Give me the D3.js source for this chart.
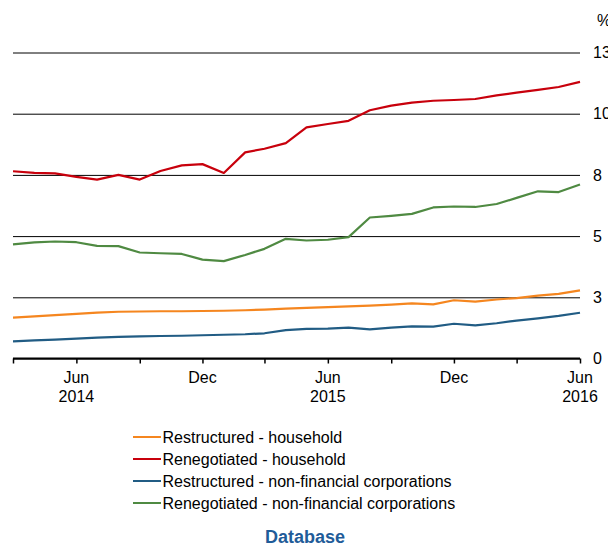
<!DOCTYPE html>
<html>
<head>
<meta charset="utf-8">
<script src="https://cdn.jsdelivr.net/npm/d3@7"></script>
<style>
  html, body { margin: 0; padding: 0; background: #fff; }
  svg { display: block; font-family: "Liberation Sans", Arial, sans-serif; }
</style>
</head>
<body>
<svg id="chart" width="608" height="544"></svg>
<script>
// Monthly observations, March 2014 to June 2016
const months = [
  "2014-03","2014-04","2014-05","2014-06","2014-07","2014-08","2014-09",
  "2014-10","2014-11","2014-12","2015-01","2015-02","2015-03","2015-04",
  "2015-05","2015-06","2015-07","2015-08","2015-09","2015-10","2015-11",
  "2015-12","2016-01","2016-02","2016-03","2016-04","2016-05","2016-06"
];

// Share of loans, per cent
const restructuredHousehold = [
  1.67, 1.72, 1.77, 1.82, 1.87, 1.91, 1.92, 1.93, 1.93, 1.94, 1.95, 1.97, 2.00, 2.04,
  2.07, 2.10, 2.13, 2.16, 2.20, 2.25, 2.21, 2.38, 2.32, 2.41, 2.47, 2.57, 2.64, 2.78
];
const renegotiatedHousehold = [
  7.65, 7.58, 7.56, 7.42, 7.31, 7.50, 7.31, 7.66, 7.89, 7.94, 7.58, 8.42, 8.57, 8.80,
  9.44, 9.58, 9.71, 10.14, 10.33, 10.45, 10.53, 10.56, 10.60, 10.75, 10.86, 10.97, 11.09, 11.30
];
const restructuredCorporations = [
  0.70, 0.74, 0.77, 0.81, 0.85, 0.88, 0.90, 0.92, 0.93, 0.95, 0.97, 0.99, 1.03, 1.16,
  1.21, 1.22, 1.26, 1.19, 1.26, 1.31, 1.30, 1.42, 1.35, 1.44, 1.55, 1.64, 1.74, 1.87
];
const renegotiatedCorporations = [
  4.66, 4.74, 4.78, 4.75, 4.60, 4.59, 4.33, 4.30, 4.27, 4.04, 3.98, 4.23, 4.48, 4.89,
  4.82, 4.85, 4.96, 5.76, 5.83, 5.91, 6.17, 6.21, 6.19, 6.31, 6.56, 6.83, 6.80, 7.11
];

const seriesNames = [
  "Restructured - household",
  "Renegotiated - household",
  "Restructured - non-financial corporations",
  "Renegotiated - non-financial corporations"
];
const seriesColors = ["#f5861f", "#c8000c", "#215c84", "#4f8a42"];
const yTicks = [0, 2.5, 5, 7.5, 10, 12.5];

const parseMonth = d3.timeParse("%Y-%m");
const dates = months.map(parseMonth);
const allSeries = [restructuredHousehold, renegotiatedHousehold, restructuredCorporations, renegotiatedCorporations];

const svg = d3.select("#chart");
const plotLeft = 13, plotRight = 580, plotTop = 52.5, plotBottom = 358.5;

const x = d3.scaleTime().domain(d3.extent(dates)).range([plotLeft, plotRight]);
const y = d3.scaleLinear().domain([0, 12.5]).range([plotBottom, plotTop]);

// Horizontal gridlines with labels on the right
const yAxis = d3.axisRight(y)
  .tickValues(yTicks)
  .tickFormat(d3.format(".0f"))
  .tickSize(-(plotRight - plotLeft))
  .tickPadding(13);
const gy = svg.append("g").attr("transform", `translate(${plotRight},0)`).call(yAxis);
gy.select(".domain").remove();
gy.selectAll(".tick line").attr("stroke", "#000").attr("stroke-width", 1);
gy.selectAll(".tick text")
  .attr("fill", "#000")
  .style("font-size", "16px")
  .style("font-family", "'Liberation Sans', Arial, sans-serif");

svg.append("text")
  .attr("x", 597).attr("y", 26)
  .style("font-size", "16px")
  .text("%");

// Time axis along the bottom, ticks every quarter from the first month
const xTickDates = d3.timeMonth.range(dates[0], d3.timeMonth.offset(dates[dates.length - 1], 1), 3);
const xAxis = d3.axisBottom(x).tickValues(xTickDates).tickSize(5).tickFormat("");
const gx = svg.append("g").attr("transform", `translate(0,${plotBottom})`).call(xAxis);
gx.select(".domain").attr("d", `M${plotLeft},0H${plotRight}`).attr("stroke", "#000").attr("stroke-width", 2);
gx.selectAll(".tick line").attr("stroke", "#000").attr("stroke-width", 1.5);

const labelled = xTickDates.filter(d => d.getMonth() === 5 || d.getMonth() === 11);
const lab = svg.append("g").style("font-size", "16px").attr("text-anchor", "middle");
labelled.forEach(d => {
  lab.append("text").attr("x", x(d)).attr("y", 383).text(d3.timeFormat("%b")(d));
  if (d.getMonth() === 5) {
    lab.append("text").attr("x", x(d)).attr("y", 402).text(d3.timeFormat("%Y")(d));
  }
});

// Series lines
const line = d3.line().x((d, i) => x(dates[i])).y(d => y(d));
allSeries.forEach((vals, k) => {
  svg.append("path")
    .datum(vals)
    .attr("fill", "none")
    .attr("stroke", seriesColors[k])
    .attr("stroke-width", 2.2)
    .attr("stroke-linejoin", "round")
    .attr("d", line);
});

// Legend
const legend = svg.append("g").attr("transform", "translate(133,437)");
seriesNames.forEach((name, k) => {
  const row = legend.append("g").attr("transform", `translate(0,${k * 22})`);
  row.append("line").attr("x1", 0).attr("x2", 28).attr("y1", 0).attr("y2", 0)
    .attr("stroke", seriesColors[k]).attr("stroke-width", 2);
  row.append("text").attr("x", 29.5).attr("y", 5.5).style("font-size", "16px").text(name);
});

svg.append("text")
  .attr("x", 305).attr("y", 543)
  .attr("text-anchor", "middle")
  .style("font-size", "18px")
  .style("font-weight", "bold")
  .attr("fill", "#1f5c99")
  .text("Database");
</script>
</body>
</html>
